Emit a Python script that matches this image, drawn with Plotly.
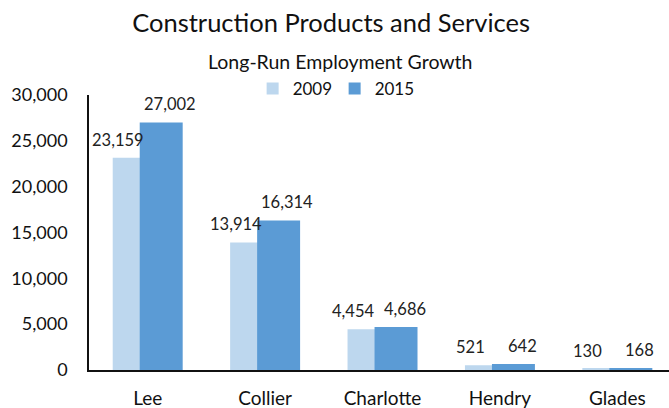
import plotly.graph_objects as go

categories = ["Lee", "Collier", "Charlotte", "Hendry", "Glades"]
values_2009 = [23159, 13914, 4454, 521, 130]
values_2015 = [27002, 16314, 4686, 642, 168]
y_ticks = [0, 5000, 10000, 15000, 20000, 25000, 30000]

FONT = "Lato"
LIGHT = "#BDD7EE"
DARK = "#5B9BD5"

W = 0.366
xs = list(range(len(categories)))

fig = go.Figure()
fig.add_trace(go.Bar(x=xs, y=values_2009, name="2009", marker=dict(color=LIGHT, line=dict(width=0)),
                     width=W, offset=-0.298))
fig.add_trace(go.Bar(x=xs, y=values_2015, name="2015", marker=dict(color=DARK, line=dict(width=0)),
                     width=W, offset=-0.068))

ann = []
for i, (a, b) in enumerate(zip(values_2009, values_2015)):
    ann.append(dict(x=i - 0.25, y=a, text=f"{a:,}", showarrow=False, xref="x", yref="y",
                    yanchor="bottom", yshift=6, font=dict(family=FONT, size=16.5, color="#222")))
    ann.append(dict(x=i + 0.19, y=b, text=f"{b:,}", showarrow=False, xref="x", yref="y",
                    yanchor="bottom", yshift=6, font=dict(family=FONT, size=16.5, color="#222")))
ann.append(dict(x=0.434, y=1.1236, xref="paper", yref="paper", text="Long-Run Employment Growth",
                showarrow=False, xanchor="center", yanchor="middle",
                font=dict(family=FONT, size=19.5, color="#111")))

fig.update_layout(
    width=669, height=408,
    margin=dict(l=89, r=0, t=95, b=38),
    paper_bgcolor="white", plot_bgcolor="white",
    barmode="overlay",
    title=dict(text="Construction Products and Services", x=0.495, xref="container", xanchor="center",
               y=1 - 23 / 408, yref="container", yanchor="middle",
               font=dict(family=FONT, size=25.5, color="#111")),
    legend=dict(orientation="h", x=0.4235, y=1.022, xanchor="center", yanchor="middle",
                font=dict(family=FONT, size=17, color="#111"), bgcolor="rgba(0,0,0,0)",
                itemwidth=30, entrywidth=37, traceorder="normal"),
    annotations=ann,
    showlegend=True,
)
fig.update_xaxes(range=[-0.5, 4.44], tickmode="array", tickvals=xs, ticktext=categories,
                 showline=True, linecolor="#111", linewidth=1.5, showgrid=False, zeroline=False,
                 ticks="", ticklabelstandoff=10, tickfont=dict(family=FONT, size=19, color="#111"))
fig.update_yaxes(range=[0, 30000], tickmode="array", tickvals=y_ticks,
                 ticktext=[f"{v:,}" for v in y_ticks],
                 showline=True, linecolor="#111", linewidth=1.5, showgrid=False, zeroline=False,
                 ticks="", ticklabelstandoff=16, tickfont=dict(family=FONT, size=18, color="#111"))

fig.write_html("out.html", config={"displayModeBar": False},
               post_script="document.body.style.margin='0';")
